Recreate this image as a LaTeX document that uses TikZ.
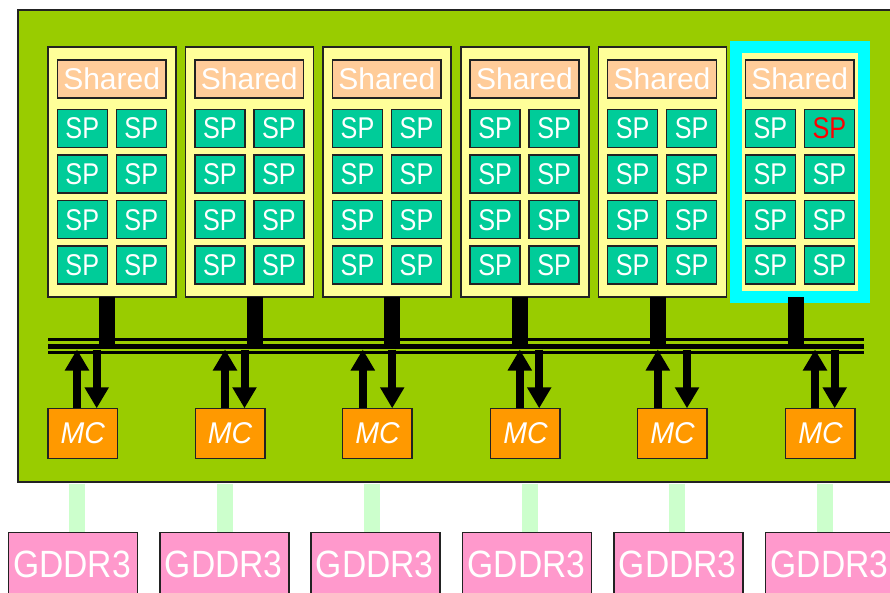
\documentclass[tikz,border=0pt]{standalone}
\usepackage{fontspec}
\setmainfont{Liberation Sans}
\usetikzlibrary{arrows.meta}

\definecolor{boardgreen}{HTML}{99CC00}
\definecolor{smyellow}{HTML}{FFFF99}
\definecolor{sharedpeach}{HTML}{FFCC99}
\definecolor{spteal}{HTML}{00CC99}
\definecolor{mcorange}{HTML}{FF9900}
\definecolor{gddrpink}{HTML}{FF99CC}
\definecolor{linkgreen}{HTML}{CCFFCC}
\definecolor{hlcyan}{HTML}{00FFFF}
\definecolor{edgegray}{HTML}{222222}

% horizontally condensed text
\newcommand\hsq[2]{\scalebox{#1}[1]{#2}}

\tikzset{
  boxbase/.style={draw=edgegray, line width=1.5pt, inner sep=0pt, outer sep=0pt},
  board/.style={boxbase, fill=boardgreen},
  smbox/.style={boxbase, fill=smyellow, minimum width=128pt, minimum height=250pt},
  sharedbox/.style={boxbase, fill=sharedpeach, minimum width=108.7pt, minimum height=38pt,
    text=white, font=\fontsize{30}{30}\selectfont},
  spbox/.style={boxbase, fill=spteal, minimum width=50pt, minimum height=38pt,
    font=\fontsize{30}{30}\selectfont},
  mcbox/.style={boxbase, fill=mcorange, minimum width=69.5pt, minimum height=50pt,
    text=white, font=\fontsize{30}{30}\selectfont\itshape},
  gddrbox/.style={boxbase, fill=gddrpink, minimum width=129pt, minimum height=63.4pt,
    text=white, font=\fontsize{38}{38}\selectfont},
  stubline/.style={black, line width=16pt},
  busarrow/.style={black, line width=8pt, -{Triangle[width=23pt,length=21pt]}},
  linkline/.style={linkgreen, line width=16pt},
  highlight/.style={draw=hlcyan, line width=12pt}
}

\begin{document}
\begin{tikzpicture}[x=1pt,y=-1pt]
\clip (0,0) rectangle (890,593);
\fill[white] (0,0) rectangle (890,593);

% chip board
\node[board, minimum width=882pt, minimum height=472pt] (board) at (459,246) {};

% multiprocessors: shared memory and eight SPs each
\foreach \i in {0,...,5} {
  \pgfmathsetmacro\bx{48+137.6*\i}
  \node[smbox] (sm\i) at (\bx+64,172) {};
  \node[sharedbox] (sh\i) at (\bx+63.65,79) {Shared};
  \foreach \r/\ry in {1/128.3,2/174,3/219.7,4/265} {
    \ifnum\i=5 \ifnum\r=1 \gdef\spcol{red}\else\gdef\spcol{white}\fi\else\gdef\spcol{white}\fi
    \node[spbox, text=white] (sp\i-\r-1) at (\bx+34.3,\ry) {\hsq{0.84}{SP}};
    \node[spbox, text=\spcol] (sp\i-\r-2) at (\bx+93.3,\ry) {\hsq{0.84}{SP}};
  }
}

% highlighted multiprocessor
\draw[highlight] (sm5.south west) rectangle (sm5.north east);

% interconnect bus
\coordinate (busW) at (48,346.5);
\coordinate (busE) at (864,346.5);
\draw[line width=4.3pt] (busW) -- (busE);
\draw[line width=2.3pt] ([yshift=7pt]busW) -- ([yshift=7pt]busE);
\draw[line width=2.5pt] ([yshift=-6.2pt]busW) -- ([yshift=-6.2pt]busE);

% multiprocessor links into the bus
\foreach \i/\sx in {0/107,1/254.5,2/392.2,3/520,4/657.8,5/795.5} {
  \coordinate (st\i) at (\sx,343.5);
  \draw[stubline] (sm\i.south -| st\i) -- (st\i);
}

% memory controllers with read/write arrows
\foreach \i/\mx/\ux/\dx in {0/48/77/96.7,1/195.3/225/244.5,2/342.7/362.8/392.2,
                            3/490.7/519.8/539.2,4/637.7/657.8/687,5/785.7/815/834.7} {
  \node[mcbox] (mc\i) at (\mx+34.75,433.3) {\hsq{0.95}{MC}};
  \coordinate (up\i) at (\ux,349.5);
  \coordinate (dn\i) at (\dx,349.5);
  \draw[busarrow] (mc\i.north -| up\i) -- (up\i);
  \draw[busarrow] (dn\i) -- (mc\i.north -| dn\i);
}

% external DRAM chips
\foreach \i/\gx/\cx in {0/8.3/77,1/160/225,2/311/372,3/462.7/530,4/614/677,5/765.7/825} {
  \node[gddrbox] (gd\i) at (\gx+64.5,564) {\hspace*{-1.5pt}\hsq{0.885}{GDDR3}};
  \coordinate (lk\i) at (\cx,483.5);
  \draw[linkline] (lk\i) -- (gd\i.north -| lk\i);
}
\end{tikzpicture}
\end{document}
